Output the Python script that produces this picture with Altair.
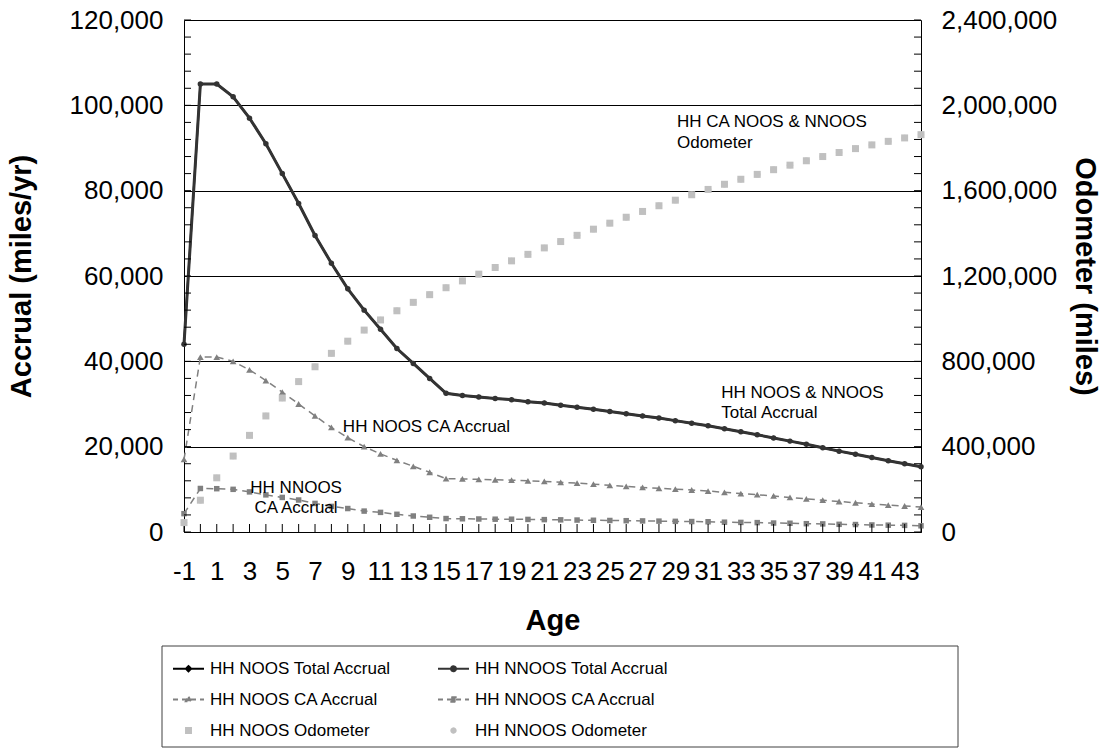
import altair as alt
import pandas as pd

# ---- data -----------------------------------------------------------------
ages = list(range(-1, 45))

noos_total = [44000, 105000, 105000, 102000, 97000, 91000, 84000, 77000, 69500, 63000,
              57000, 52000, 47500, 43000, 39500, 36000, 32500, 32000, 31650, 31300,
              31000, 30550, 30250, 29700, 29250, 28750, 28250, 27700, 27200, 26700,
              26100, 25500, 24900, 24200, 23500, 22800, 22050, 21300, 20550, 19750,
              18950, 18200, 17450, 16700, 16000, 15300]
nnoos_total = [44000, 105000, 105000, 102000, 97000, 91000, 84000, 77000, 69500, 63000,
               57000, 52000, 47500, 43000, 39500, 36000, 32500, 32000, 31650, 31300,
               31000, 30550, 30250, 29700, 29250, 28750, 28250, 27700, 27200, 26700,
               26100, 25500, 24900, 24200, 23500, 22800, 22050, 21300, 20550, 19750,
               18950, 18200, 17450, 16700, 16000, 15300]
noos_ca = [17000, 41000, 41000, 40000, 38000, 35500, 32800, 30000, 27200, 24500,
           22100, 20000, 18300, 16800, 15400, 14000, 12500, 12450, 12350, 12250,
           12150, 12000, 11850, 11650, 11450, 11200, 10950, 10700, 10450, 10250,
           10050, 9850, 9600, 9300, 9000, 8750, 8450, 8100, 7750, 7450,
           7150, 6850, 6550, 6300, 6100, 5850]
nnoos_ca = [4300, 10200, 10150, 10000, 9400, 8700, 8100, 7500, 6700, 6000,
            5500, 4900, 4600, 4150, 3750, 3450, 3150, 3100, 3050, 3000,
            3000, 2950, 2900, 2850, 2800, 2750, 2700, 2650, 2600, 2550,
            2500, 2450, 2400, 2300, 2250, 2200, 2100, 2050, 1950, 1900,
            1800, 1750, 1650, 1600, 1550, 1450]
noos_odometer = [44000, 149000, 254000, 356000, 453000, 544000, 628000, 705000, 774500, 837500,
                 894500, 946500, 994000, 1037000, 1076500, 1112500, 1145000, 1177000, 1208650, 1239950,
                 1270950, 1301500, 1331750, 1361450, 1390700, 1419450, 1447700, 1475400, 1502600, 1529300,
                 1555400, 1580900, 1605800, 1630000, 1653500, 1676300, 1698350, 1719650, 1740200, 1759950,
                 1778900, 1797100, 1814550, 1831250, 1847250, 1862550]
nnoos_odometer = [44000, 149000, 254000, 356000, 453000, 544000, 628000, 705000, 774500, 837500,
                  894500, 946500, 994000, 1037000, 1076500, 1112500, 1145000, 1177000, 1208650, 1239950,
                  1270950, 1301500, 1331750, 1361450, 1390700, 1419450, 1447700, 1475400, 1502600, 1529300,
                  1555400, 1580900, 1605800, 1630000, 1653500, 1676300, 1698350, 1719650, 1740200, 1759950,
                  1778900, 1797100, 1814550, 1831250, 1847250, 1862550]

series_names = ["HH NOOS Total Accrual", "HH NNOOS Total Accrual",
                "HH NOOS CA Accrual", "HH NNOOS CA Accrual",
                "HH NOOS Odometer", "HH NNOOS Odometer"]

# axis tick positions
x_label_ages = [a for a in ages if a % 2 != 0]
left_major = list(range(0, 120001, 20000))
left_minor = list(range(0, 120001, 4000))
right_major = list(range(0, 2400001, 400000))

# in-plot notes, anchored in data units (age, accrual)
note_text = ["HH CA NOOS & NNOOS", "Odometer", "HH NOOS & NNOOS", "Total Accrual",
             "HH NOOS CA Accrual", "HH NNOOS", "CA Accrual"]
note_age = [29.1, 29.1, 31.8, 31.8, 8.7, 3.05, 3.3]
note_value = [96000, 91100, 32500, 27800, 24600, 10300, 5600]

df = pd.DataFrame({
    "age": ages,
    "noos_total": noos_total,
    "nnoos_total": nnoos_total,
    "noos_ca": noos_ca,
    "nnoos_ca": nnoos_ca,
    "noos_odometer": noos_odometer,
    "nnoos_odometer": nnoos_odometer,
})
notes = pd.DataFrame({"text": note_text, "age": note_age, "value": note_value})
legend_df = pd.DataFrame({"series": series_names})
minor_df = pd.DataFrame({"v": left_minor})
frame_df = pd.DataFrame({"k": [0]})

# ---- styling ----------------------------------------------------------------
FONT = "Liberation Sans"
BLACK = "#000000"
DARK = "#333333"
GREY = "#808080"
LIGHT = "#c0c0c0"
W, H = 737, 512
TICK = 7

x_scale = alt.Scale(domain=[-1, 44], nice=False, zero=False)
left_scale = alt.Scale(domain=[0, 120000], nice=False)
right_scale = alt.Scale(domain=[0, 2400000], nice=False)

x_axis = alt.Axis(
    title="Age", values=x_label_ages, labelExpr="datum.value + ''",
    labelOverlap=False, labelFlush=False, grid=False, ticks=False, domainColor=BLACK,
    labelFont=FONT, labelFontSize=26, labelColor=BLACK, labelPadding=26,
    titleFont=FONT, titleFontSize=29, titleFontWeight="bold", titleColor=BLACK,
    titleX=W / 2, titleY=88, titleBaseline="middle", titleAlign="center",
)
left_axis = alt.Axis(
    title="Accrual (miles/yr)", orient="left", values=left_major, format=",d",
    labelOverlap=False, labelFlush=False, ticks=False,
    grid=True, gridColor=BLACK, gridWidth=1, domainColor=BLACK,
    labelFont=FONT, labelFontSize=26, labelColor=BLACK, labelPadding=21,
    titleFont=FONT, titleFontSize=29, titleFontWeight="bold", titleColor=BLACK,
    titleAngle=270, titleX=-163, titleY=H / 2, titleBaseline="middle", titleAlign="center",
)
right_axis = alt.Axis(
    title="Odometer (miles)", orient="right", values=right_major, format=",d",
    labelOverlap=False, labelFlush=False, grid=False, ticks=False, domainColor=BLACK,
    labelFont=FONT, labelFontSize=26, labelColor=BLACK, labelPadding=20,
    titleFont=FONT, titleFontSize=29, titleFontWeight="bold", titleColor=BLACK,
    titleAngle=90, titleX=163, titleY=H / 2, titleBaseline="middle", titleAlign="center",
)

base = alt.Chart(df)
# every layer carries the same axis definition so the merged axes keep it
X = alt.X("age:Q", scale=x_scale, axis=x_axis)


def yl(field):
    return alt.Y(f"{field}:Q", scale=left_scale, axis=left_axis)


def yr(field):
    return alt.Y(f"{field}:Q", scale=right_scale, axis=right_axis)


# inward tick marks on the three axes
left_ticks = alt.Chart(minor_df).mark_rule(color=BLACK, strokeWidth=1).encode(
    y=yl("v"), x=alt.value(0), x2=alt.value(TICK))
right_ticks = alt.Chart(minor_df).mark_rule(color=BLACK, strokeWidth=1).encode(
    y=yl("v"), x=alt.value(W - TICK), x2=alt.value(W))
bottom_ticks = base.mark_rule(color=BLACK, strokeWidth=1).encode(
    x=X, y=alt.value(H - TICK - 1), y2=alt.value(H))

# accrual series (left axis)
noos_total_line = base.mark_line(color=BLACK, strokeWidth=2).encode(x=X, y=yl("noos_total"))
noos_total_pts = base.mark_point(shape="diamond", filled=True, size=22, color=BLACK, opacity=1).encode(x=X, y=yl("noos_total"))
nnoos_total_line = base.mark_line(color=DARK, strokeWidth=3).encode(x=X, y=yl("nnoos_total"))
nnoos_total_pts = base.mark_point(shape="circle", filled=True, size=30, color=DARK, opacity=1).encode(x=X, y=yl("nnoos_total"))
noos_ca_line = base.mark_line(color=GREY, strokeWidth=1.5, strokeDash=[7, 5]).encode(x=X, y=yl("noos_ca"))
noos_ca_pts = base.mark_point(shape="triangle-up", filled=True, size=45, color=GREY, opacity=1).encode(x=X, y=yl("noos_ca"))
nnoos_ca_line = base.mark_line(color=GREY, strokeWidth=1.5, strokeDash=[7, 5]).encode(x=X, y=yl("nnoos_ca"))
nnoos_ca_pts = base.mark_point(shape="square", filled=True, size=30, color=GREY, opacity=1).encode(x=X, y=yl("nnoos_ca"))

note_layer = alt.Chart(notes).mark_text(
    align="left", baseline="middle", font=FONT, fontSize=17, color=BLACK
).encode(x=X, y=yl("value"), text="text:N")

# legend: line-with-marker symbols drawn as custom paths
symbol_paths = [
    "M-1,0H1M0,-0.17L0.17,0L0,0.17L-0.17,0Z",
    "M-1,0H1M0.16,0A0.16,0.16,0,1,1,-0.16,0A0.16,0.16,0,1,1,0.16,0Z",
    "M-1,0H1M0,-0.18L0.17,0.12L-0.17,0.12Z",
    "M-1,0H1M-0.14,-0.14H0.14V0.14H-0.14Z",
    "M-0.16,-0.16H0.16V0.16H-0.16Z",
    "M0.14,0A0.14,0.14,0,1,1,-0.14,0A0.14,0.14,0,1,1,0.14,0Z",
]
fill_colors = [BLACK, DARK, GREY, GREY, LIGHT, LIGHT]
stroke_colors = [BLACK, DARK, GREY, GREY, LIGHT, LIGHT]
dashes = [[1, 0], [1, 0], [5, 4], [5, 4], [1, 0], [1, 0]]

leg = alt.Legend(
    title=None, orient="none", legendX=-12, legendY=632, columns=2, direction="horizontal",
    columnPadding=42, rowPadding=6, padding=0, symbolSize=961, symbolStrokeWidth=2,
    labelFont=FONT, labelFontSize=17, labelColor=BLACK, labelOffset=5, labelLimit=900,
)
legend_layer = alt.Chart(legend_df).transform_filter("false").mark_point(filled=True, opacity=1).encode(
    fill=alt.Fill("series:N", scale=alt.Scale(domain=series_names, range=fill_colors), legend=leg),
    stroke=alt.Stroke("series:N", scale=alt.Scale(domain=series_names, range=stroke_colors), legend=leg),
    shape=alt.Shape("series:N", scale=alt.Scale(domain=series_names, range=symbol_paths), legend=leg),
    strokeDash=alt.StrokeDash("series:N", scale=alt.Scale(domain=series_names, range=dashes), legend=leg),
)
# border around the legend block
legend_frame = alt.Chart(frame_df).mark_rect(fillOpacity=0, stroke="#404040", strokeWidth=1).encode(
    x=alt.value(-22), x2=alt.value(774), y=alt.value(626), y2=alt.value(727))

left = alt.layer(
    noos_total_line, noos_total_pts,
    noos_ca_line, noos_ca_pts, nnoos_ca_line, nnoos_ca_pts,
    nnoos_total_line, nnoos_total_pts,
    left_ticks, right_ticks, bottom_ticks,
    note_layer, legend_layer, legend_frame,
)

# odometer series (right axis)
right = alt.layer(
    base.mark_point(shape="circle", filled=True, size=40, color=LIGHT, opacity=1).encode(x=X, y=yr("nnoos_odometer")),
    base.mark_point(shape="square", filled=True, size=49, color=LIGHT, opacity=1).encode(x=X, y=yr("noos_odometer")),
)

chart = alt.layer(left, right).resolve_scale(y="independent").properties(
    width=W, height=H,
    autosize=alt.AutoSizeParams(type="none"),
    padding={"left": 184, "top": 20, "right": 181, "bottom": 223},
).configure_view(stroke=None)

chart.save("out.html", embed_options={"renderer": "svg", "actions": False})
